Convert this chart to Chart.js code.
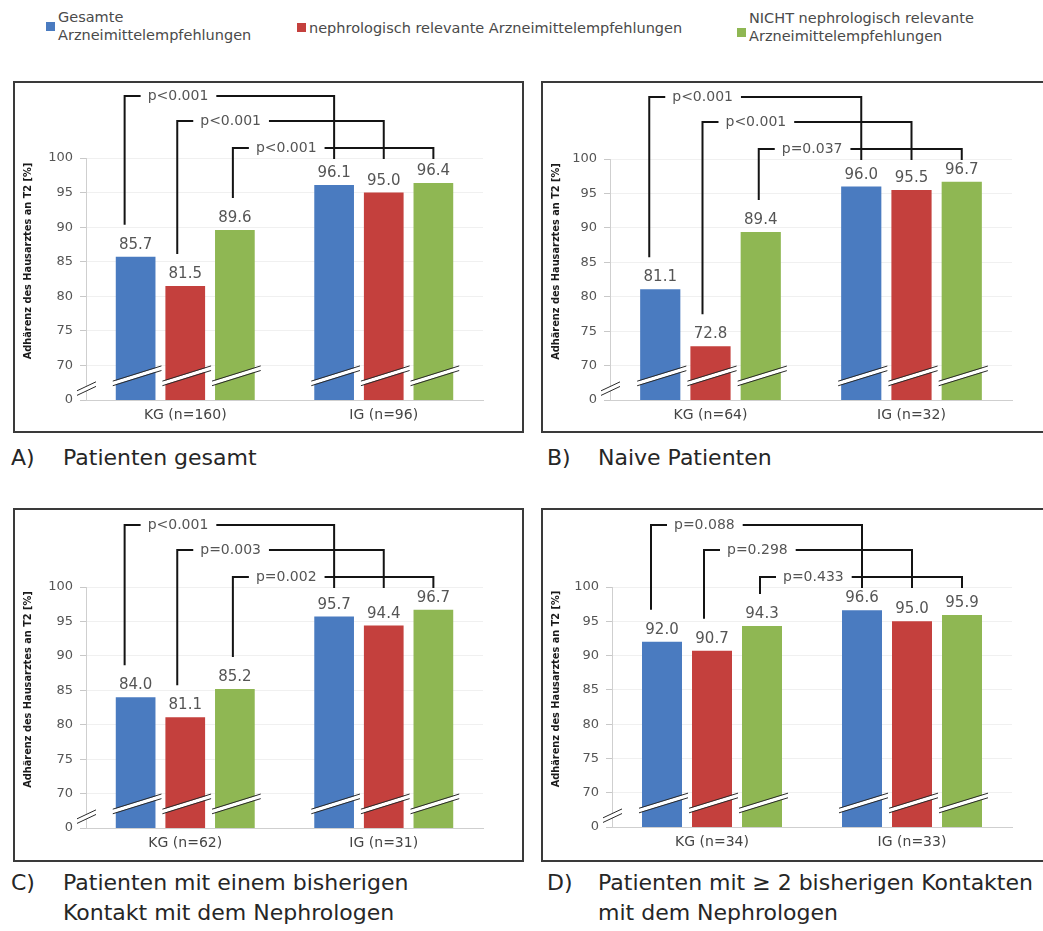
<!DOCTYPE html>
<html>
<head>
<meta charset="utf-8">
<script src="https://cdn.jsdelivr.net/npm/chart.js@4.4.1/dist/chart.umd.min.js"></script>
<style>
html,body{margin:0;background:#fff;overflow:hidden}
#page{position:relative;width:1043px;height:931px;overflow:hidden;font-family:"DejaVu Sans",sans-serif}
.box{position:absolute;border:2px solid #3a3a3a;box-sizing:border-box}
.box div{position:relative;width:100%;height:100%}
.cap{position:absolute;font-size:22px;line-height:30px;color:#262626;white-space:nowrap}
.leg{position:absolute;font-size:14.5px;line-height:18px;color:#4a4a4a;white-space:nowrap}
.sq{position:absolute;width:9px;height:9px}
</style>
</head>
<body>
<div id="page">

<div class="sq" style="left:46px;top:22px;background:#4a7bc0"></div>
<div class="leg" style="left:58px;top:8px">Gesamte<br>Arzneimittelempfehlungen</div>
<div class="sq" style="left:297px;top:23px;background:#c4403d"></div>
<div class="leg" style="left:309px;top:19px">nephrologisch relevante Arzneimittelempfehlungen</div>
<div class="sq" style="left:737px;top:28px;background:#8fb753"></div>
<div class="leg" style="left:749px;top:9px">NICHT nephrologisch relevante<br>Arzneimittelempfehlungen</div>

<div class="box" style="left:13px;top:81px;width:511px;height:352px"><div><canvas id="chartA"></canvas></div></div>
<div class="box" style="left:541px;top:81px;width:512px;height:352px"><div><canvas id="chartB"></canvas></div></div>
<div class="box" style="left:13px;top:508px;width:511px;height:354px"><div><canvas id="chartC"></canvas></div></div>
<div class="box" style="left:541px;top:508px;width:512px;height:354px"><div><canvas id="chartD"></canvas></div></div>

<div class="cap" style="left:11px;top:443px">A)</div>
<div class="cap" style="left:63px;top:443px">Patienten gesamt</div>
<div class="cap" style="left:547px;top:443px">B)</div>
<div class="cap" style="left:598px;top:443px">Naive Patienten</div>
<div class="cap" style="left:11px;top:868px">C)</div>
<div class="cap" style="left:63px;top:868px">Patienten mit einem bisherigen<br>Kontakt mit dem Nephrologen</div>
<div class="cap" style="left:547px;top:868px">D)</div>
<div class="cap" style="left:598px;top:868px">Patienten mit ≥ 2 bisherigen Kontakten<br>mit dem Nephrologen</div>

</div>
<script>
// series names (same order in every panel)
const seriesNames = ['Gesamte Arzneimittelempfehlungen', 'nephrologisch relevante Arzneimittelempfehlungen', 'NICHT nephrologisch relevante Arzneimittelempfehlungen'];
const colors = ['#4a7bc0', '#c4403d', '#8fb753'];

// y axis: broken axis, the bottom tick (65) is shown as "0"
const yMin = 65;
const yMax = 100;
const yStep = 5;
const yBreakLabel = '0';
const yTitle = 'Adhärenz des Hausarztes an T2 [%]';

// A) Patienten gesamt
const labelsA = ['KG (n=160)', 'IG (n=96)'];
const gesamtA = [85.7, 96.1];
const nephroA = [81.5, 95.0];
const nichtA = [89.6, 96.4];
const pA = ['p<0.001', 'p<0.001', 'p<0.001'];

// B) Naive Patienten
const labelsB = ['KG (n=64)', 'IG (n=32)'];
const gesamtB = [81.1, 96.0];
const nephroB = [72.8, 95.5];
const nichtB = [89.4, 96.7];
const pB = ['p<0.001', 'p<0.001', 'p=0.037'];

// C) ein bisheriger Kontakt
const labelsC = ['KG (n=62)', 'IG (n=31)'];
const gesamtC = [84.0, 95.7];
const nephroC = [81.1, 94.4];
const nichtC = [85.2, 96.7];
const pC = ['p<0.001', 'p=0.003', 'p=0.002'];

// D) >= 2 bisherige Kontakte
const labelsD = ['KG (n=34)', 'IG (n=33)'];
const gesamtD = [92.0, 96.6];
const nephroD = [90.7, 95.0];
const nichtD = [94.3, 95.9];
const pD = ['p=0.088', 'p=0.298', 'p=0.433'];

const FONT = '"DejaVu Sans", sans-serif';

function seg(ctx, x0, y0, x1, y1) {
    ctx.beginPath();
    ctx.moveTo(x0, y0);
    ctx.lineTo(x1, y1);
    ctx.stroke();
}

// the "//" break sign
function drawBreak(ctx, x0, y0, x1, y1) {
    ctx.strokeStyle = '#ffffff';
    ctx.lineWidth = 3.5;
    seg(ctx, x0, y0, x1, y1);
    ctx.strokeStyle = '#2a2a2a';
    ctx.lineWidth = 1;
    seg(ctx, x0, y0 - 2.3, x1, y1 - 2.3);
    seg(ctx, x0, y0 + 2.3, x1, y1 + 2.3);
}

const annotations = {
    id: 'annotations',
    afterDatasetsDraw(chart) {
        const ctx = chart.ctx;
        const y = chart.scales.y;
        const area = chart.chartArea;
        const metas = [0, 1, 2].map(i => chart.getDatasetMeta(i));
        const pvals = chart.options.plugins.annotations.pvals;
        ctx.save();

        metas.forEach((m, i) => {
            m.data.forEach((bar, j) => {
                // break on the bar
                const half = bar.width / 2;
                drawBreak(ctx, bar.x - half - 3, y.getPixelForValue(67.4), bar.x + half + 6, y.getPixelForValue(69.6));
                // value label
                ctx.fillStyle = '#555555';
                ctx.font = '15px ' + FONT;
                ctx.textAlign = 'center';
                ctx.textBaseline = 'alphabetic';
                ctx.fillText(chart.data.datasets[i].data[j].toFixed(1), bar.x, bar.y - 8);
            });
        });

        // break on the y axis
        drawBreak(ctx, area.left - 9, y.getPixelForValue(66.0), area.left + 10, y.getPixelForValue(67.3));

        // significance brackets KG -> IG
        const levels = [-62, -37, -10];
        const leftShift = [-11, -8, -2];
        ctx.font = '14px ' + FONT;
        pvals.forEach((p, k) => {
            const kg = metas[k].data[0];
            const ig = metas[k].data[1];
            const xl = kg.x + leftShift[k];
            const xr = ig.x;
            const yl = kg.y - 32;
            const yh = area.top + levels[k];
            const tx = xl + 23;
            const tw = ctx.measureText(p).width;
            ctx.strokeStyle = '#141414';
            ctx.lineWidth = 2;
            ctx.beginPath();
            ctx.moveTo(xl, yl);
            ctx.lineTo(xl, yh);
            ctx.lineTo(xl + 16, yh);
            ctx.stroke();
            ctx.beginPath();
            ctx.moveTo(tx + tw + 8, yh);
            ctx.lineTo(xr, yh);
            ctx.lineTo(xr, area.top + 1);
            ctx.stroke();
            ctx.fillStyle = '#555555';
            ctx.textAlign = 'left';
            ctx.textBaseline = 'middle';
            ctx.fillText(p, tx, yh);
        });

        // y axis title
        ctx.translate(13, (area.top + area.bottom) / 2 - 18);
        ctx.rotate(-Math.PI / 2);
        ctx.fillStyle = '#1a1a1a';
        ctx.font = 'bold 9.8px ' + FONT;
        ctx.textAlign = 'center';
        ctx.textBaseline = 'middle';
        ctx.fillText(yTitle, 0, 0);
        ctx.restore();
    }
};

function makeChart(id, labels, gesamt, nephro, nicht, pvals, yWidth, padTop, padRight, padBottom) {
    return new Chart(document.getElementById(id), {
        type: 'bar',
        data: {
            labels: labels,
            datasets: [
                {label: seriesNames[0], data: gesamt, backgroundColor: colors[0]},
                {label: seriesNames[1], data: nephro, backgroundColor: colors[1]},
                {label: seriesNames[2], data: nicht, backgroundColor: colors[2]}
            ]
        },
        options: {
            responsive: true,
            maintainAspectRatio: false,
            animation: false,
            layout: {padding: {top: padTop, right: padRight, bottom: padBottom, left: 0}},
            datasets: {bar: {categoryPercentage: 0.75, barPercentage: 0.8}},
            plugins: {
                legend: {display: false},
                tooltip: {enabled: false},
                annotations: {pvals: pvals}
            },
            scales: {
                x: {
                    grid: {display: false, drawTicks: false},
                    border: {color: '#cfcfcf', width: 1},
                    ticks: {color: '#444444', font: {family: FONT, size: 14}, padding: 7},
                    afterFit: s => { s.height = 31; }
                },
                y: {
                    min: yMin,
                    max: yMax,
                    ticks: {
                        stepSize: yStep,
                        color: '#555555',
                        font: {family: FONT, size: 13},
                        padding: 7,
                        callback: v => v === yMin ? yBreakLabel : v
                    },
                    grid: {color: '#f0f0f0', tickColor: '#c8c8c8', tickLength: 6},
                    border: {color: '#cfcfcf', width: 1},
                    afterFit: s => { s.width = yWidth; }
                }
            }
        },
        plugins: [annotations]
    });
}

makeChart('chartA', labelsA, gesamtA, nephroA, nichtA, pA, 71, 75, 39, 0);
makeChart('chartB', labelsB, gesamtB, nephroB, nichtB, pB, 67, 76, 39, 0);
makeChart('chartC', labelsC, gesamtC, nephroC, nichtC, pC, 71, 77, 39, 1);
makeChart('chartD', labelsD, gesamtD, nephroD, nichtD, pD, 69, 77, 39, 2);
</script>
</body>
</html>
